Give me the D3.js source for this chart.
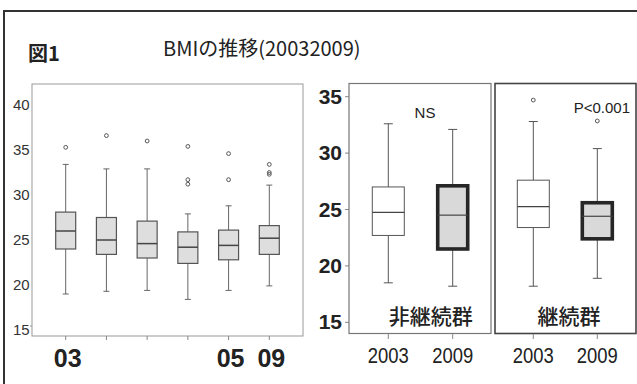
<!DOCTYPE html>
<html>
  <head>
    <meta charset="utf-8">
    <style>
      body { margin: 0; background: #fff; }
      text { font-family: "Liberation Sans", Arial, sans-serif; }
      .jp { font-family: "Noto Sans CJK JP", sans-serif; }
    </style>
    <script src="https://d3js.org/d3.v7.min.js"></script>
  </head>
  <body>
    <svg></svg>
    <script>
    var width = 637;
    var height = 384;

    // yearly boxes (left panel)
    var yearLabels = ["03", "", "", "", "05", "09"];
    var yearStats = [
      {lo: 19.0, q1: 24.0, med: 26.0, q3: 28.1, hi: 33.4, out: [35.3]},
      {lo: 19.3, q1: 23.4, med: 25.0, q3: 27.5, hi: 32.9, out: [36.6]},
      {lo: 19.4, q1: 23.0, med: 24.6, q3: 27.1, hi: 32.9, out: [36.0]},
      {lo: 18.4, q1: 22.4, med: 24.2, q3: 25.9, hi: 27.9, out: [35.4, 31.7, 31.2]},
      {lo: 19.4, q1: 22.8, med: 24.4, q3: 26.1, hi: 28.8, out: [34.6, 31.7]},
      {lo: 19.9, q1: 23.4, med: 25.2, q3: 26.6, hi: 31.1, out: [33.4, 32.5, 32.3]}
    ];
    var leftTicks = [15, 20, 25, 30, 35, 40];

    // group comparison (right panels)
    var groupYears = ["2003", "2009"];
    var groupNames = ["非継続群", "継続群"];
    var groupTests = ["NS", "P<0.001"];
    var groupStats = [
      [{lo: 18.5, q1: 22.7, med: 24.75, q3: 27.0, hi: 32.6, out: []},
       {lo: 18.2, q1: 21.5, med: 24.5, q3: 27.1, hi: 32.1, out: []}],
      [{lo: 18.2, q1: 23.4, med: 25.25, q3: 27.6, hi: 32.8, out: [34.7]},
       {lo: 18.9, q1: 22.4, med: 24.4, q3: 25.6, hi: 30.4, out: [32.85]}]
    ];
    var rightTicks = [15, 20, 25, 30, 35];

    var svg = d3.select("svg")
        .attr("width", width)
        .attr("height", height);

    // outer figure frame
    svg.append("path")
        .attr("d", "M4,384 V11 H637")
        .attr("fill", "none")
        .attr("stroke", "#333")
        .attr("stroke-width", 2);

    svg.append("text")
        .attr("class", "jp")
        .attr("x", 28)
        .attr("y", 61)
        .attr("font-size", 20)
        .attr("font-weight", "bold")
        .attr("fill", "#222")
        .text("図1");

    svg.append("text")
        .attr("class", "jp")
        .attr("x", 163)
        .attr("y", 56)
        .attr("font-size", 20)
        .attr("fill", "#222")
        .text("BMIの推移(20032009)");

    function drawBox(g, x, d, w, opt) {
      g.append("line")
          .attr("x1", x).attr("x2", x)
          .attr("y1", opt.y(d.hi)).attr("y2", opt.y(d.q3))
          .attr("stroke", opt.whisk).attr("stroke-width", 1);
      g.append("line")
          .attr("x1", x).attr("x2", x)
          .attr("y1", opt.y(d.q1)).attr("y2", opt.y(d.lo))
          .attr("stroke", opt.whisk).attr("stroke-width", 1);
      [d.hi, d.lo].forEach(function(v) {
        g.append("line")
            .attr("x1", x - opt.cap / 2).attr("x2", x + opt.cap / 2)
            .attr("y1", opt.y(v)).attr("y2", opt.y(v))
            .attr("stroke", opt.whisk).attr("stroke-width", 1);
      });
      g.append("rect")
          .attr("x", x - w / 2)
          .attr("width", w)
          .attr("y", opt.y(d.q3))
          .attr("height", opt.y(d.q1) - opt.y(d.q3))
          .attr("fill", opt.fill)
          .attr("stroke", opt.stroke)
          .attr("stroke-width", opt.sw);
      g.append("line")
          .attr("x1", x - w / 2).attr("x2", x + w / 2)
          .attr("y1", opt.y(d.med)).attr("y2", opt.y(d.med))
          .attr("stroke", opt.medStroke).attr("stroke-width", opt.medW);
      g.selectAll(null)
          .data(d.out)
          .enter().append("circle")
          .attr("cx", x)
          .attr("cy", function(v) { return opt.y(v); })
          .attr("r", 1.9)
          .attr("fill", "none")
          .attr("stroke", "#555")
          .attr("stroke-width", 1);
    }

    // ---- left panel ----
    var yL = d3.scaleLinear().domain([15, 40]).range([330, 105]);
    var xL = d3.scalePoint().domain(d3.range(yearStats.length)).range([65.7, 269.3]);

    var left = svg.append("g");
    left.append("rect")
        .attr("x", 32).attr("y", 84)
        .attr("width", 271).attr("height", 252)
        .attr("fill", "none")
        .attr("stroke", "#999")
        .attr("stroke-width", 1);

    left.selectAll(".ylab")
        .data(leftTicks)
        .enter().append("text")
        .attr("x", 13)
        .attr("y", function(d) { return yL(d) + 5; })
        .attr("font-size", 15)
        .attr("fill", "#333")
        .text(function(d) { return d; });

    left.append("line")
        .attr("x1", 30).attr("x2", 32)
        .attr("y1", yL(15) - 4).attr("y2", yL(15) - 4)
        .attr("stroke", "#999");

    left.selectAll(".xt")
        .data(xL.domain())
        .enter().append("line")
        .attr("x1", function(d) { return xL(d); })
        .attr("x2", function(d) { return xL(d); })
        .attr("y1", 336).attr("y2", 340)
        .attr("stroke", "#888");

    left.selectAll(".xlab")
        .data(xL.domain())
        .enter().append("text")
        .attr("x", function(d) { return xL(d) + 2; })
        .attr("y", 367)
        .attr("text-anchor", "middle")
        .attr("font-size", 25)
        .attr("font-weight", "bold")
        .attr("fill", "#222")
        .text(function(d) { return yearLabels[d]; });

    yearStats.forEach(function(d, i) {
      drawBox(left, xL(i), d, 20, {
        y: yL, cap: 6, whisk: "#666", fill: "#dedede",
        stroke: "#555", sw: 1.2, medStroke: "#444", medW: 1.5
      });
    });

    // ---- right panels ----
    var yR = d3.scaleLinear().domain([15, 35]).range([322.3, 96.7]);
    var panels = [
      {x0: 349, x1: 491, pts: [388.3, 452.7], frame: "#777", fw: 1.2, nameX: 430.7, testX: 425, testA: "middle", testY: 118},
      {x0: 495, x1: 636, pts: [533.3, 597.3], frame: "#444", fw: 1.6, nameX: 569, testX: 630, testA: "end", testY: 113}
    ];

    var right = svg.append("g");
    right.selectAll(".ylab")
        .data(rightTicks)
        .enter().append("text")
        .attr("x", 342)
        .attr("y", function(d) { return yR(d) + 7; })
        .attr("text-anchor", "end")
        .attr("font-size", 21)
        .attr("font-weight", "bold")
        .attr("fill", "#222")
        .text(function(d) { return d; });

    right.selectAll(".ytick")
        .data(rightTicks)
        .enter().append("line")
        .attr("x1", 345).attr("x2", 349)
        .attr("y1", function(d) { return yR(d); })
        .attr("y2", function(d) { return yR(d); })
        .attr("stroke", "#888");

    panels.forEach(function(p, k) {
      var g = right.append("g");
      g.append("rect")
          .attr("x", p.x0).attr("y", 83.5)
          .attr("width", p.x1 - p.x0).attr("height", 250)
          .attr("fill", "none")
          .attr("stroke", p.frame)
          .attr("stroke-width", p.fw);

      var xR = d3.scalePoint().domain(groupYears).range(p.pts);

      g.selectAll(".xt")
          .data(groupYears)
          .enter().append("line")
          .attr("x1", function(d) { return xR(d); })
          .attr("x2", function(d) { return xR(d); })
          .attr("y1", 334).attr("y2", 339)
          .attr("stroke", "#888");

      g.selectAll(".xlab")
          .data(groupYears)
          .enter().append("text")
          .attr("x", function(d) { return xR(d); })
          .attr("y", 363)
          .attr("text-anchor", "middle")
          .attr("font-size", 22)
          .attr("fill", "#222")
          .attr("textLength", 41)
          .attr("lengthAdjust", "spacingAndGlyphs")
          .style("font-family", "'Liberation Sans Narrow', 'Liberation Sans', sans-serif")
          .text(function(d) { return d; });

      groupStats[k].forEach(function(d, i) {
        var thick = i === 1;
        drawBox(g, xR(groupYears[i]), d, thick ? 30 : 32, {
          y: yR, cap: 9, whisk: "#555",
          fill: thick ? "#d9d9d9" : "#fff",
          stroke: thick ? "#262626" : "#555",
          sw: thick ? 3.6 : 1,
          medStroke: "#444", medW: 1.2
        });
      });

      g.append("text")
          .attr("x", p.testX)
          .attr("y", p.testY)
          .attr("text-anchor", p.testA)
          .attr("font-size", 15)
          .attr("fill", "#222")
          .text(groupTests[k]);

      g.append("text")
          .attr("class", "jp")
          .attr("x", p.nameX)
          .attr("y", 324)
          .attr("text-anchor", "middle")
          .attr("font-size", 21)
          .attr("font-weight", 500)
          .attr("fill", "#222")
          .text(groupNames[k]);
    });
    </script>
  </body>
</html>
